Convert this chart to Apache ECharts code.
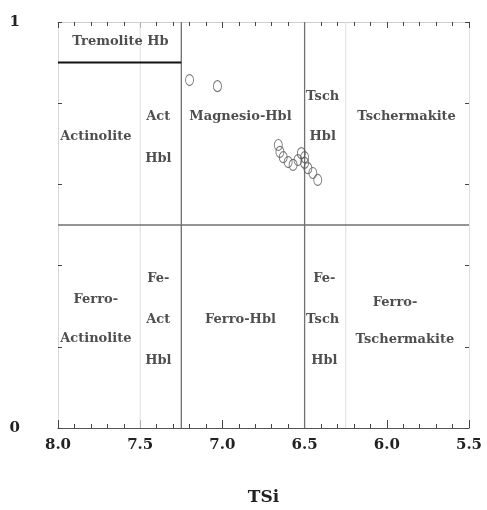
<!DOCTYPE html>
<html>
<head>
<meta charset="utf-8">
<script src="https://cdn.jsdelivr.net/npm/echarts@6/dist/echarts.min.js"></script>
<style>html,body{margin:0;padding:0;background:#fff}#c{width:487px;height:510px}</style>
</head>
<body>
<div id="c"></div>
<script>
// Sample data: TSi (x) vs Mg# (y)
const tsi = [7.20, 7.03, 6.66, 6.65, 6.63, 6.60, 6.57, 6.54, 6.52, 6.50, 6.50, 6.48, 6.45, 6.42];
const mg  = [0.857, 0.842, 0.697, 0.680, 0.667, 0.655, 0.648, 0.660, 0.677, 0.667, 0.653, 0.640, 0.628, 0.611];

// Classification boundaries (data coordinates)
const solidBoundaries = [
  [[7.25, 0], [7.25, 1]],
  [[6.5, 0], [6.5, 1]],
  [[8.0, 0.5], [5.5, 0.5]]
];
const lightBoundaries = [
  [[7.5, 0], [7.5, 1]],
  [[6.25, 0], [6.25, 1]]
];
const tremoliteLine = [[8.0, 0.9], [7.25, 0.9]];

// Field names and their anchor points (data coordinates)
const fieldNames = [
  'Tremolite Hb', 'Actinolite', 'Act', 'Hbl', 'Magnesio-Hbl', 'Tsch', 'Hbl', 'Tschermakite',
  'Ferro-', 'Actinolite', 'Fe-', 'Act', 'Hbl', 'Ferro-Hbl', 'Fe-', 'Tsch', 'Hbl', 'Ferro-', 'Tschermakite'
];
const fieldX = [7.62, 7.77, 7.39, 7.39, 6.89, 6.39, 6.39, 5.88,
                7.77, 7.77, 7.39, 7.39, 7.39, 6.89, 6.38, 6.39, 6.38, 5.95, 5.89];
const fieldY = [0.951, 0.717, 0.766, 0.663, 0.766, 0.815, 0.717, 0.766,
                0.315, 0.219, 0.369, 0.268, 0.167, 0.268, 0.369, 0.268, 0.167, 0.31, 0.217];

const xTickLabels = ['5.5', '6.0', '6.5', '7.0', '7.5', '8.0'];

const FONT = 'DejaVu Serif';
const chart = echarts.init(document.getElementById('c'));

const series = [];
solidBoundaries.forEach(seg => series.push({
  type: 'line', data: seg, symbol: 'none', silent: true, z: 2,
  lineStyle: { color: '#707070', width: 1.3 }
}));
lightBoundaries.forEach(seg => series.push({
  type: 'line', data: seg, symbol: 'none', silent: true, z: 1,
  lineStyle: { color: '#dedede', width: 1 }
}));
series.push({
  type: 'line', data: tremoliteLine, symbol: 'none', silent: true, z: 3,
  lineStyle: { color: '#111', width: 2 }
});
series.push({
  type: 'scatter',
  data: tsi.map((v, i) => [v, mg[i]]),
  symbol: 'circle', symbolSize: [8, 11], z: 5,
  itemStyle: { color: 'rgba(255,255,255,0)', borderColor: '#555', borderWidth: 1 }
});
series.push({
  type: 'scatter', z: 6, symbolSize: 1,
  itemStyle: { color: 'rgba(0,0,0,0)' },
  data: fieldNames.map((n, i) => ({ name: n, value: [fieldX[i], fieldY[i]] })),
  label: {
    show: true, position: 'inside', formatter: p => p.name,
    fontFamily: FONT, fontWeight: 'bold', fontSize: 13, color: '#222'
  }
});

chart.setOption({
  animation: false,
  backgroundColor: '#fff',
  grid: { left: 58, right: 18, top: 22, bottom: 82, containLabel: false, outerBoundsMode: 'none' },
  xAxis: [{
    type: 'value', min: 5.5, max: 8.0, interval: 0.5, inverse: true,
    name: 'TSi', nameLocation: 'middle', nameGap: 61,
    nameTextStyle: { fontFamily: FONT, fontWeight: 'bold', fontSize: 17, color: '#222' },
    axisLine: { show: true, onZero: false, lineStyle: { color: '#555', width: 1.2 } },
    axisTick: { show: true, inside: true, length: 8, lineStyle: { color: '#444' } },
    minorTick: { show: true, splitNumber: 5, length: 4, lineStyle: { color: '#444' } },
    splitLine: { show: false },
    axisLabel: {
      margin: 10, fontFamily: FONT, fontWeight: 'bold', fontSize: 15, color: '#222',
      formatter: v => { const s = v.toFixed(1); return xTickLabels.includes(s) ? s : ''; }
    }
  }, {
    type: 'value', position: 'top', min: 5.5, max: 8.0, interval: 0.5, inverse: true,
    axisLine: { show: true, onZero: false, lineStyle: { color: '#cfcfcf' } },
    axisTick: { show: true, inside: true, length: 6, lineStyle: { color: '#444' } },
    minorTick: { show: true, splitNumber: 5, length: 4, lineStyle: { color: '#444' } },
    axisLabel: { show: false }, splitLine: { show: false }
  }],
  yAxis: [{
    type: 'value', min: 0, max: 1, interval: 0.2,
    name: 'Mg#', nameLocation: 'middle', nameGap: 30, nameRotate: 90,
    nameTextStyle: { fontFamily: FONT, fontWeight: 'bold', fontSize: 18, color: '#222' },
    axisLine: { show: true, onZero: false, lineStyle: { color: '#d8d8d8' } },
    axisTick: { show: true, inside: true, length: 4, lineStyle: { color: '#444' } },
    splitLine: { show: false },
    axisLabel: {
      margin: 38, fontFamily: FONT, fontWeight: 'bold', fontSize: 15, color: '#222',
      formatter: v => (v === 0 || v === 1) ? String(v) : ''
    }
  }, {
    type: 'value', position: 'right', min: 0, max: 1, interval: 0.2,
    axisLine: { show: true, onZero: false, lineStyle: { color: '#e0e0e0' } },
    axisTick: { show: true, inside: true, length: 4, lineStyle: { color: '#444' } },
    axisLabel: { show: false }, splitLine: { show: false }
  }],
  series: series
});
</script>
</body>
</html>
